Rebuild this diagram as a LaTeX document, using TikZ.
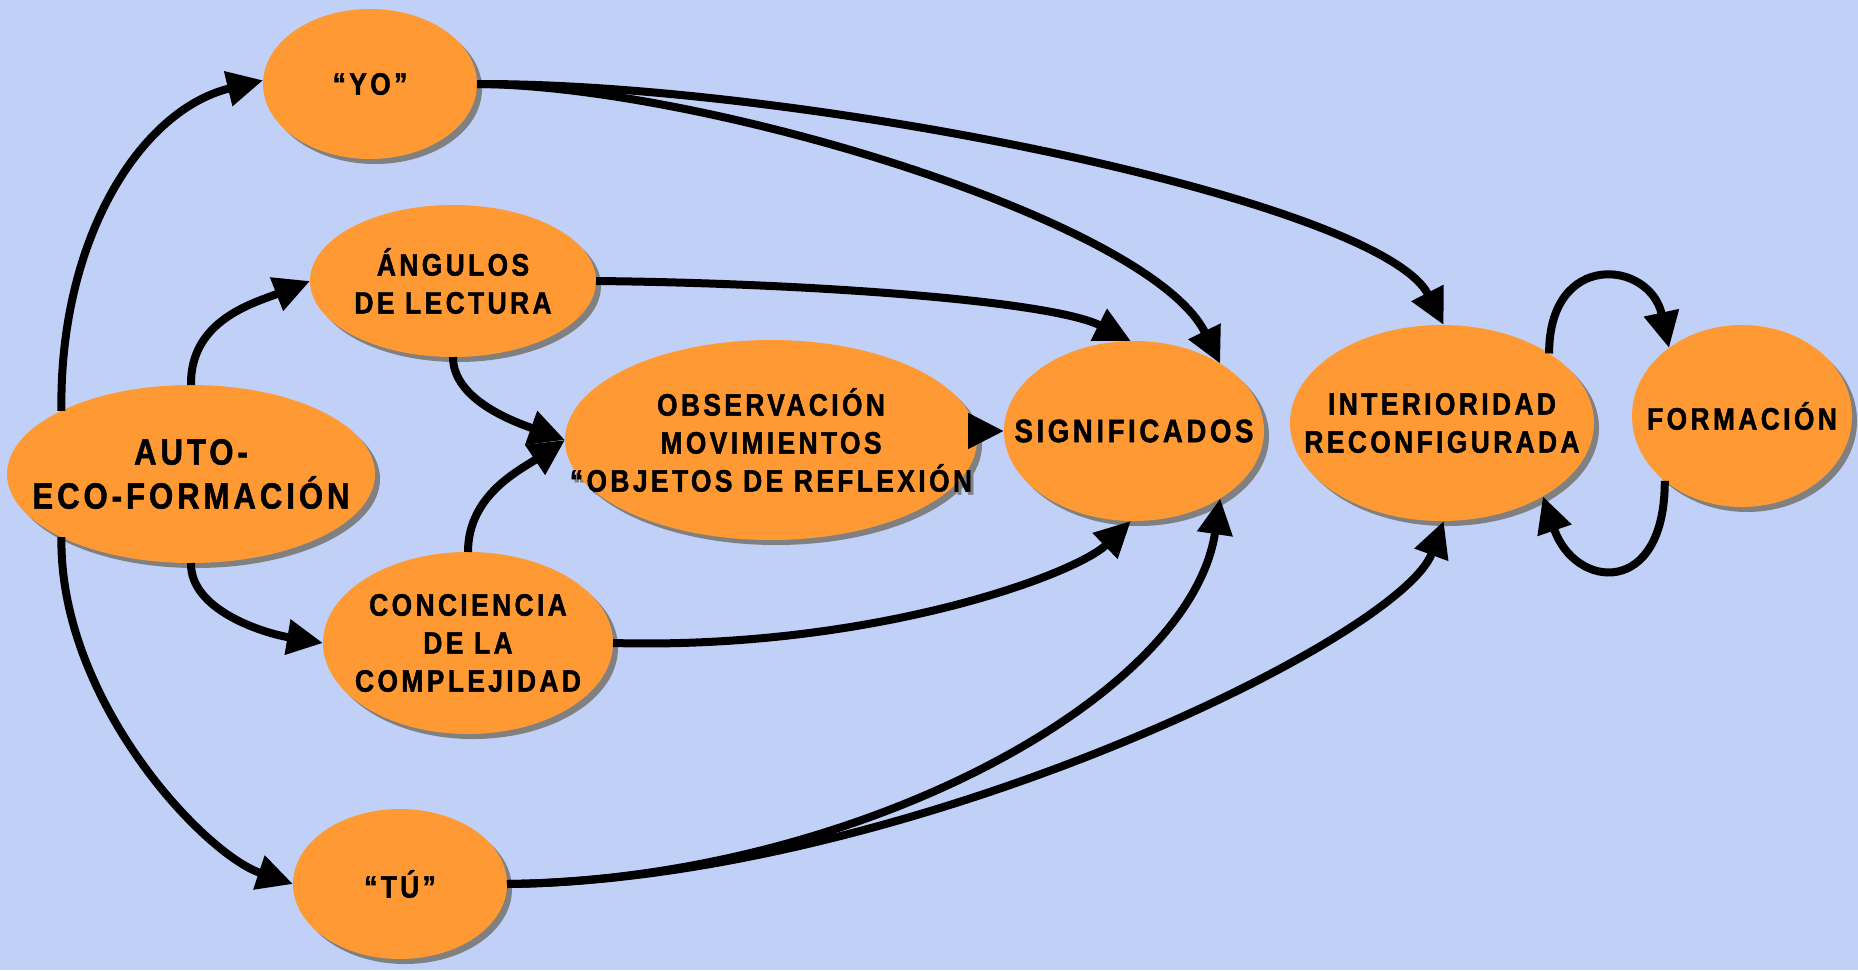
\documentclass[tikz,border=0pt]{standalone}
\usepackage{fontspec}
\setmainfont{Liberation Sans}[FakeStretch=0.85, LetterSpace=11, BoldFeatures={FakeBold=1.5}]
\usetikzlibrary{shapes.geometric,shadows,arrows.meta}
\definecolor{bg}{RGB}{192,208,246}
\definecolor{bubblefill}{RGB}{255,153,51}
\definecolor{shadowgray}{RGB}{128,128,128}
\tikzset{
  bubble/.style={ellipse, fill=bubblefill, inner sep=-200pt, outer sep=0pt, align=center,
     font=\bfseries\fontsize{31}{38}\selectfont,
     drop shadow={shadow xshift=5pt, shadow yshift=-5pt, fill=shadowgray, opacity=1}},
  txtshadow/.style={align=center, text=shadowgray, font=\bfseries\fontsize{31}{38}\selectfont},
  arr/.style={line width=8pt, -{Triangle[length=36pt,width=34pt]}},
}
\begin{document}
\begin{tikzpicture}[x=1pt,y=-1pt]
\fill[bg] (0,0) rectangle (1858,970);
\useasboundingbox (0,0) rectangle (1858,970);

\node[txtshadow] (obsshadow) at (774,443) {OBSERVACIÓN\\MOVIMIENTOS\\“OBJETOS DE REFLEXIÓN};

\node[bubble, minimum width=214pt, minimum height=150pt] (yo) at (370,84) {“YO”};
\node[bubble, minimum width=286pt, minimum height=152pt] (ang) at (453,281) {ÁNGULOS\\DE LECTURA};
\node[bubble, minimum width=368pt, minimum height=178pt, font=\bfseries\fontsize{36.5}{44}\selectfont] (auto) at (191,474) {AUTO-\\ECO-FORMACIÓN};
\node[bubble, minimum width=412pt, minimum height=200pt] (obs) at (771,440) {OBSERVACIÓN\\MOVIMIENTOS\\“OBJETOS DE REFLEXIÓN};
\node[bubble, minimum width=290pt, minimum height=182pt] (conc) at (468,643) {CONCIENCIA\\DE LA\\COMPLEJIDAD};
\node[bubble, minimum width=214pt, minimum height=150pt] (tu) at (400,884) {“TÚ”};
\node[bubble, minimum width=260pt, minimum height=180pt, font=\bfseries\fontsize{32.5}{38}\selectfont] (sig) at (1134,431) {SIGNIFICADOS};
\node[bubble, minimum width=304pt, minimum height=196pt] (int) at (1442,423) {INTERIORIDAD\\RECONFIGURADA};
\node[bubble, minimum width=220pt, minimum height=182pt] (form) at (1742,416) {FORMACIÓN};

\draw[arr] (auto.154) .. controls (59,240) and (140,110) .. (yo.178);
\draw[arr] (auto.206) .. controls (59,700) and (204,854) .. (tu.180);
\draw[arr] (auto.90) .. controls (190,320) and (254,303) .. (ang.180);
\draw[arr] (auto.270) .. controls (190,610) and (263,633) .. (conc.180);
\draw[arr] (ang.270) .. controls (453,400) and (515,422) .. (obs.180);
\draw[arr] (conc.90) .. controls (468,495) and (520,470) .. (obs.180);
\draw[arr, shorten <=-11pt] (obs.east |- sig.west) -- (sig.west);
\draw[arr] (ang.0) .. controls (800,283) and (1050,300) .. (sig.92);
\draw[arr] (yo.0) .. controls (700,85) and (1150,220) .. (sig.38);
\draw[arr] (yo.0) .. controls (800,83) and (1380,200) .. (int.89);
\draw[arr] (conc.0) .. controls (870,650) and (1075,575) .. (sig.268);
\draw[arr] (tu.0) .. controls (850,880) and (1190,700) .. (sig.322);
\draw[arr] (tu.0) .. controls (900,880) and (1400,640) .. (int.271);
\draw[arr] (int.33) .. controls (1549,250) and (1650,260) .. (form.137);
\draw[arr] (form.220) .. controls (1665,598) and (1575,590) .. (int.324);
\end{tikzpicture}
\end{document}
